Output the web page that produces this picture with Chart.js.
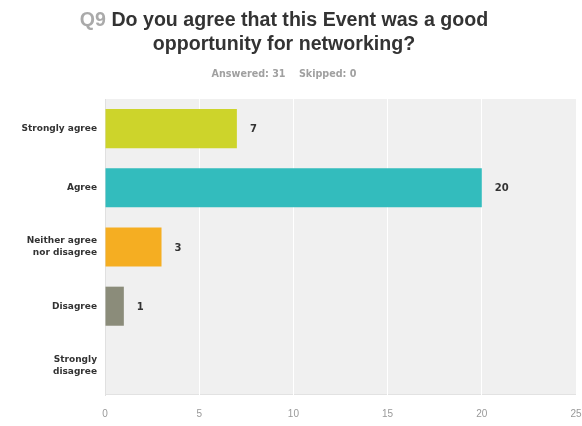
<!DOCTYPE html>
<html>
<head>
<meta charset="utf-8">
<script src="https://cdn.jsdelivr.net/npm/chart.js@4.4.1/dist/chart.umd.min.js"></script>
<style>
  html, body { margin: 0; padding: 0; background: #fff; }
  #wrap { position: relative; width: 582px; height: 426px; }
  #title {
    position: absolute; left: -7px; top: 7px; width: 582px; text-align: center;
    font-family: "Liberation Sans", Arial, sans-serif; font-weight: bold;
    font-size: 19.6px; line-height: 24px; color: #333;
  }
  #title .q { color: #aaaaaa; }
  #sub {
    position: absolute; left: -7px; top: 68px; width: 582px; text-align: center;
    font-family: "DejaVu Sans", sans-serif; font-weight: bold;
    font-size: 9.6px; color: #a0a0a0;
  }
  canvas { position: absolute; left: 0; top: 0; }
</style>
</head>
<body>
<div id="wrap">
  <canvas id="c" width="582" height="426"></canvas>
  <div id="title"><span class="q">Q9</span> Do you agree that this Event was a good<br>opportunity for networking?</div>
  <div id="sub">Answered: 31&nbsp;&nbsp;&nbsp;&nbsp;Skipped: 0</div>
</div>
<script>
const categories = [
  "Strongly agree",
  "Agree",
  ["Neither agree", "nor disagree"],
  "Disagree",
  ["Strongly", "disagree"]
];
const responses = [7, 20, 3, 1, 0];
const barColors = ["#cdd42b", "#33bcbd", "#f5ae22", "#8b8c7a", "#cccccc"];
const xTicks = [0, 5, 10, 15, 20, 25];

// Grey panel behind the bars
const panelBg = {
  id: "panelBg",
  beforeDraw(chart) {
    const { ctx, chartArea: a } = chart;
    ctx.save();
    ctx.fillStyle = "#f0f0f0";
    ctx.fillRect(a.left, a.top, a.right - a.left, a.bottom - a.top);
    ctx.fillStyle = "#e2e2e2";
    ctx.fillRect(a.left, a.bottom - 1, a.right - a.left, 1);
    ctx.restore();
  }
};

// Count printed to the right of each bar
const valueLabels = {
  id: "valueLabels",
  afterDatasetsDraw(chart) {
    const { ctx } = chart;
    const meta = chart.getDatasetMeta(0);
    ctx.save();
    ctx.font = "bold 10px 'DejaVu Sans', sans-serif";
    ctx.fillStyle = "#333";
    ctx.textAlign = "left";
    ctx.textBaseline = "middle";
    meta.data.forEach((bar, i) => {
      const v = responses[i];
      if (!v) return;
      ctx.fillText(String(v), bar.x + 13, bar.y + 1);
    });
    ctx.restore();
  }
};

new Chart(document.getElementById("c"), {
  type: "bar",
  data: {
    labels: categories,
    datasets: [{
      data: responses,
      backgroundColor: barColors,
      borderWidth: 0,
      categoryPercentage: 0.66,
      barPercentage: 1
    }]
  },
  options: {
    indexAxis: "y",
    responsive: false,
    animation: false,
    layout: { padding: { top: 99, right: 6, left: 0, bottom: 0 } },
    plugins: { legend: { display: false }, tooltip: { enabled: false } },
    scales: {
      x: {
        min: 0, max: 25,
        afterBuildTicks(s) { s.ticks = xTicks.map(v => ({ value: v })); },
        afterFit(s) { s.height = 31; s.paddingRight = 0; s.paddingLeft = 0; },
        grid: { color: "#ffffff", lineWidth: 1, drawTicks: false, drawOnChartArea: true },
        border: { display: false },
        ticks: {
          padding: 13,
          color: "#999",
          font: { family: "'Liberation Sans', Arial, sans-serif", size: 10 }
        }
      },
      y: {
        afterFit(s) { s.width = 105; },
        grid: { display: false, drawTicks: false },
        border: { display: true, color: "#e0e0e0" },
        ticks: {
          padding: 8,
          color: "#333",
          font: { family: "'DejaVu Sans', sans-serif", size: 9, weight: "bold", lineHeight: "12px" }
        }
      }
    }
  },
  plugins: [panelBg, valueLabels]
});
</script>
</body>
</html>
